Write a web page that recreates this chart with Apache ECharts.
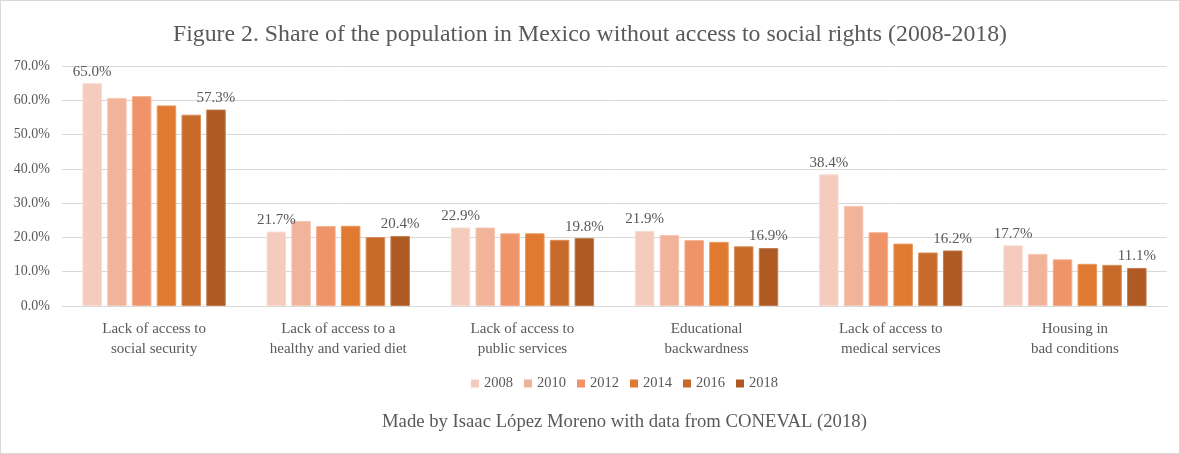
<!DOCTYPE html>
<html>
<head>
<meta charset="utf-8">
<script src="https://cdn.jsdelivr.net/npm/echarts@6/dist/echarts.min.js"></script>
<style>
  html, body { margin: 0; padding: 0; background: #fff; }
  #chart { width: 1178px; height: 452px; border: 1px solid #d9d9d9; }
</style>
</head>
<body>
<div id="chart"></div>
<script>
// Categories of social deprivation (CONEVAL)
const categories = [
  'Lack of access to\nsocial security',
  'Lack of access to a\nhealthy and varied diet',
  'Lack of access to\npublic services',
  'Educational\nbackwardness',
  'Lack of access to\nmedical services',
  'Housing in\nbad conditions'
];
const years = ['2008', '2010', '2012', '2014', '2016', '2018'];

// Share of population (%) per year, one value per category
const v2008 = [65.0, 21.7, 22.9, 21.9, 38.4, 17.7];
const v2010 = [60.7, 24.8, 22.9, 20.7, 29.2, 15.2];
const v2012 = [61.2, 23.3, 21.2, 19.2, 21.5, 13.6];
const v2014 = [58.5, 23.4, 21.2, 18.7, 18.2, 12.3];
const v2016 = [55.8, 20.1, 19.3, 17.4, 15.6, 12.0];
const v2018 = [57.3, 20.4, 19.8, 16.9, 16.2, 11.1];

const seriesValues = [v2008, v2010, v2012, v2014, v2016, v2018];
const colors  = ['#F5CBBE', '#F2B39B', '#EF9368', '#E07A30', '#C86A29', '#AE5A22'];
const borders = ['#F8DCD2', '#F6C8B6', '#F4AF8E', '#E9985E', '#D68F5C', '#C27E52'];
// Only the first and last years carry value labels
const labelled = [true, false, false, false, false, true];

const serif = '"Liberation Serif", "DejaVu Serif", serif';
const textColor = '#595959';

const chart = echarts.init(document.getElementById('chart'));
chart.setOption({
  animation: false,
  title: {
    text: 'Figure 2. Share of the population in Mexico without access to social rights (2008-2018)',
    left: 'center',
    top: 17,
    textStyle: { fontFamily: serif, fontSize: 23.8, fontWeight: 'normal', color: textColor }
  },
  legend: {
    data: years,
    top: 370,
    left: 465,
    itemWidth: 8,
    itemHeight: 8,
    itemGap: 11,
    icon: 'rect',
    itemStyle: { borderWidth: 0 },
    textStyle: { fontFamily: serif, fontSize: 14.5, color: textColor }
  },
  graphic: [{
    type: 'text',
    left: 381,
    top: 412,
    style: {
      text: 'Made by Isaac López Moreno with data from CONEVAL (2018)',
      font: '18.7px ' + serif,
      fill: textColor
    }
  }],
  grid: { left: 61, right: 12, top: 65, bottom: 147 },
  xAxis: {
    type: 'category',
    data: categories,
    axisLine: { lineStyle: { color: '#d9d9d9' } },
    axisTick: { show: false },
    axisLabel: {
      fontFamily: serif, fontSize: 15, color: textColor,
      lineHeight: 20, margin: 13, interval: 0
    }
  },
  yAxis: {
    type: 'value',
    min: 0, max: 70, interval: 10,
    axisLabel: {
      fontFamily: serif, fontSize: 14, color: textColor, margin: 12,
      formatter: v => v.toFixed(1) + '%'
    },
    splitLine: { lineStyle: { color: '#d9d9d9' } },
    axisLine: { show: false },
    axisTick: { show: false }
  },
  series: seriesValues.map((vals, i) => ({
    name: years[i],
    type: 'bar',
    data: vals,
    barWidth: 19.5,
    barGap: '27%',
    itemStyle: { color: colors[i], borderColor: borders[i], borderWidth: 1 },
    label: {
      show: labelled[i],
      position: 'top',
      distance: 4,
      fontFamily: serif,
      fontSize: 15,
      color: textColor,
      formatter: p => p.value.toFixed(1) + '%'
    }
  }))
});
</script>
</body>
</html>
